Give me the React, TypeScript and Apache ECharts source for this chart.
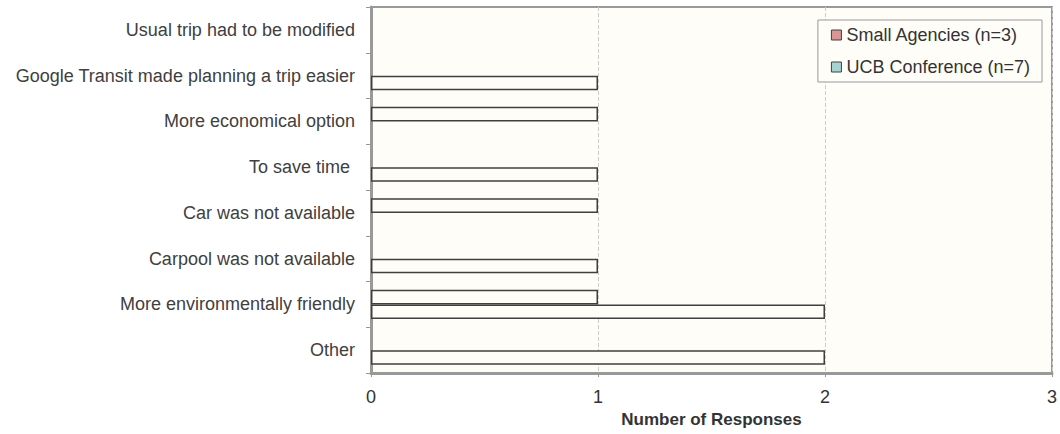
import React, { useEffect, useRef } from "react";
import * as echarts from "echarts";

const categories = [
  "Other",
  "More environmentally friendly",
  "Carpool was not available",
  "Car was not available",
  "To save time ",
  "More economical option",
  "Google Transit made planning a trip easier",
  "Usual trip had to be modified",
];
const smallAgencies = [2, 2, 1, 0, 1, 0, 1, 0];
const ucbConference = [0, 1, 0, 1, 0, 1, 0, 0];
const xTicks = [0, 1, 2, 3];
const seriesNames = ["Small Agencies (n=3)", "UCB Conference (n=7)"];
const legendColors = ["#D99694", "#A5D5D3"];

const FONT = "'Liberation Sans', Arial, sans-serif";
const BG = "#FFFDF8";

const hideZero = (arr: number[]) => arr.map((v) => (v === 0 ? "-" : v));

export default function App() {
  const ref = useRef<HTMLDivElement>(null);
  useEffect(() => {
    if (!ref.current) return;
    const chart = echarts.init(ref.current, undefined, { renderer: "svg" });
    const barStyle = { color: BG, borderColor: "#404040", borderWidth: 1.5 };
    chart.setOption({
      animation: false,
      textStyle: { fontFamily: FONT },
      grid: {
        left: 371,
        right: 7,
        top: 7,
        bottom: 61,
        show: true,
        backgroundColor: BG,
        borderColor: "#999999",
        borderWidth: 2,
      },
      legend: {
        orient: "vertical",
        right: 18,
        top: 20,
        backgroundColor: BG,
        borderColor: "#999999",
        borderWidth: 1,
        padding: [6, 12, 6, 13],
        itemGap: 14,
        itemWidth: 10,
        itemHeight: 10,
        textStyle: { fontFamily: FONT, fontSize: 18, color: "#333333" },
        data: seriesNames.map((n, i) => ({
          name: n,
          icon: "rect",
          itemStyle: { color: legendColors[i], borderColor: "#404040", borderWidth: 1 },
        })),
      },
      xAxis: {
        type: "value",
        min: xTicks[0],
        max: xTicks[xTicks.length - 1],
        interval: 1,
        name: "Number of Responses",
        nameLocation: "middle",
        nameGap: 37,
        nameTextStyle: { fontFamily: FONT, fontSize: 17, fontWeight: "bold", color: "#333333" },
        axisLine: { show: true, lineStyle: { color: "#999999", width: 3 } },
        axisTick: { show: true, length: 4, lineStyle: { color: "#999999" } },
        axisLabel: { fontFamily: FONT, fontSize: 18, color: "#333333", margin: 15 },
        splitLine: { show: true, lineStyle: { color: "#cccccc", type: "dashed" } },
      },
      yAxis: {
        type: "category",
        data: categories,
        axisLine: { show: true, lineStyle: { color: "#999999", width: 3 } },
        axisTick: { show: true, length: 5, lineStyle: { color: "#999999" } },
        axisLabel: { fontFamily: FONT, fontSize: 18, color: "#404040", margin: 16 },
        splitLine: { show: false },
      },
      series: [
        {
          name: seriesNames[1],
          type: "bar",
          data: hideZero(ucbConference),
          itemStyle: barStyle,
          barGap: "0%",
          barCategoryGap: "36%",
        },
        {
          name: seriesNames[0],
          type: "bar",
          data: hideZero(smallAgencies),
          itemStyle: barStyle,
          barGap: "0%",
          barCategoryGap: "36%",
        },
      ],
    });
    return () => chart.dispose();
  }, []);
  return (
    <div
      ref={ref}
      style={{ position: "absolute", left: 0, top: 0, width: 1060, height: 434, background: "#ffffff" }}
    />
  );
}
